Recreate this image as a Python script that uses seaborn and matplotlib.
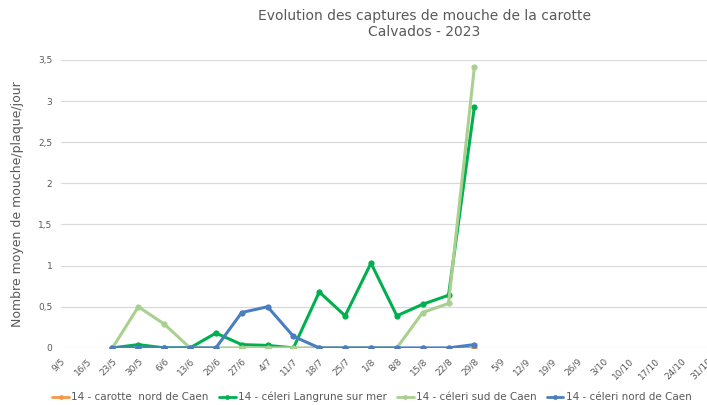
import pandas as pd
import numpy as np
import matplotlib.pyplot as plt
import seaborn as sns

# Axe des dates (semaines)
dates = ['9/5', '16/5', '23/5', '30/5', '6/6', '13/6', '20/6', '27/6', '4/7',
         '11/7', '18/7', '25/7', '1/8', '8/8', '15/8', '22/8', '29/8', '5/9',
         '12/9', '19/9', '26/9', '3/10', '10/10', '17/10', '24/10', '31/10']

# Dates avec relevés : 23/5 -> 29/8
obs_dates = ['23/5', '30/5', '6/6', '13/6', '20/6', '27/6', '4/7', '11/7',
             '18/7', '25/7', '1/8', '8/8', '15/8', '22/8', '29/8']

carotte_nord = [0, 0, 0, 0, 0, 0, 0, 0, 0, 0, 0, 0, 0, 0, 0]
celeri_langrune = [0, 0.04, 0, 0, 0.18, 0.04, 0.03, 0, 0.68, 0.39, 1.03, 0.39, 0.53, 0.64, 2.93]
celeri_sud = [0, 0.50, 0.29, 0, 0, 0, 0, 0, 0, 0, 0, 0, 0.43, 0.54, 3.41]
celeri_nord = [0, 0, 0, 0, 0, 0.43, 0.50, 0.14, 0, 0, 0, 0, 0, 0, 0.04]

series = {
    '14 - carotte  nord de Caen': carotte_nord,
    '14 - céleri Langrune sur mer': celeri_langrune,
    '14 - céleri sud de Caen': celeri_sud,
    '14 - céleri nord de Caen': celeri_nord,
}
colors = ['#F79646', '#00B050', '#A9D08E', '#4A7EC0']

rows = []
for name, vals in series.items():
    for d, v in zip(obs_dates, vals):
        rows.append({'pos': dates.index(d), 'valeur': v, 'serie': name})
df = pd.DataFrame(rows)

sns.set_style("white")
plt.rcParams['font.family'] = ['DejaVu Sans']

fig = plt.figure(figsize=(7.07, 4.05), dpi=100)
ax = fig.add_axes([0.086, 0.141, 0.914, 0.711])

sns.lineplot(data=df, x='pos', y='valeur', hue='serie', palette=colors,
             marker='o', markersize=4.5, markeredgewidth=0, linewidth=2.2,
             sort=False, legend=False, ax=ax)

ax.set_xlim(0, len(dates) - 1)
ax.set_ylim(0, 3.5)
ax.set_xticks(range(len(dates)))
ax.set_xticklabels(dates, rotation=45, ha='right', rotation_mode='anchor',
                   fontsize=6.5, color='#595959')
yt = np.arange(0, 3.51, 0.5)
ax.set_yticks(yt)
ax.set_yticklabels([f'{v:g}'.replace('.', ',') for v in yt], fontsize=6.5, color='#595959')
ax.tick_params(axis='both', length=0, pad=6)
ax.yaxis.grid(True, color='#D9D9D9', linewidth=0.9)
ax.set_axisbelow(True)
for s in ax.spines.values():
    s.set_visible(False)

ax.set_xlabel('')
ax.set_ylabel('Nombre moyen de mouche/plaque/jour', fontsize=9, color='#595959', labelpad=10)

fig.text(0.600, 0.941, 'Evolution des captures de mouche de la carotte\nCalvados - 2023',
         ha='center', va='center', fontsize=10, color='#595959', linespacing=1.25)

handles = [plt.Line2D([], [], color=c, marker='o', markersize=3.5, markeredgewidth=0,
                      linewidth=2) for c in colors]
fig.legend(handles, list(series.keys()), loc='center', bbox_to_anchor=(0.526, 0.02),
           ncol=4, frameon=False, fontsize=7.5, handlelength=1.6, handletextpad=0.2,
           columnspacing=1.0, labelcolor='#595959')

fig.savefig('out.png', dpi=100)
